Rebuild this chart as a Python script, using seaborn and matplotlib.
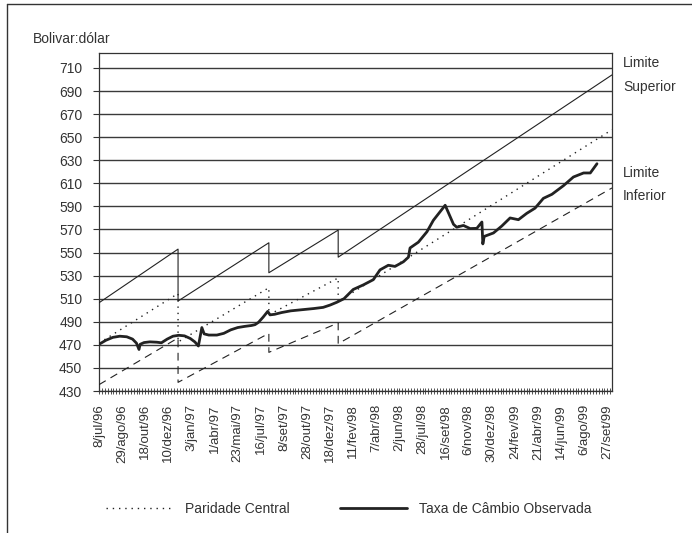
import numpy as np
import pandas as pd
import matplotlib
matplotlib.use("Agg")
import matplotlib.pyplot as plt
from matplotlib.lines import Line2D
from matplotlib.ticker import MultipleLocator
import seaborn as sns

# x positions are measured in "label slots" (the date labels are evenly spaced)
date_labels = ["8/jul/96", "29/ago/96", "18/out/96", "10/dez/96", "3/jan/97", "1/abr/97",
               "23/mai/97", "16/jul/97", "8/set/97", "28/out/97", "18/dez/97", "11/fev/98",
               "7/abr/98", "2/jun/98", "28/jul/98", "16/set/98", "6/nov/98", "30/dez/98",
               "24/fev/99", "21/abr/99", "14/jun/99", "6/ago/99", "27/set/99"]

# band vertices (sawtooth with resets)
band_x = [0, 3.42, 3.42, 7.35, 7.35, 10.35, 10.35, 22.2]
upper_y = [506.5, 553, 508, 558.5, 532.5, 569.5, 546, 704]
central_y = [471.5, 514.5, 472.5, 519.5, 496, 528, 507.5, 656.5]
lower_y = [435.5, 476, 437.5, 480, 463.5, 489, 471, 606]

# observed exchange rate
obs_x = [0, 0.3, 0.6, 0.9, 1.2, 1.45, 1.62, 1.73, 1.78, 1.95, 2.2, 2.5, 2.7, 2.95,
         3.2, 3.45, 3.7, 3.95, 4.15, 4.3, 4.45, 4.55, 4.75, 5.1, 5.4, 5.7, 6.0, 6.3,
         6.6, 6.75, 6.9, 7.1, 7.3, 7.4, 7.6, 7.9, 8.3, 8.8, 9.3, 9.7, 10.0, 10.3,
         10.6, 11.0, 11.44, 11.87, 12.16, 12.52, 12.81, 13.17, 13.39, 13.46, 13.82,
         14.19, 14.47, 14.98, 15.34, 15.48, 15.77, 16.06, 16.35, 16.57, 16.61, 16.67,
         17.07, 17.43, 17.79, 18.15, 18.51, 18.87, 19.23, 19.6, 20.1, 20.53, 20.97,
         21.26, 21.55]
obs_y = [470.5, 474, 476.5, 477.5, 477, 475, 471.5, 466, 470.5, 472, 472.6, 472.3,
         471.8, 475, 477.5, 478.3, 477.8, 475.5, 472.5, 469, 485, 479.5, 478.5, 478.5,
         480, 483, 485, 486, 486.8, 487.5, 489.5, 494, 499, 496, 496.5, 498, 499.5,
         500.5, 501.5, 502.5, 504.5, 507, 510, 518, 522, 526.5, 535, 539, 538, 542,
         546, 554, 559, 568, 578, 591, 574.5, 572, 573.5, 570.8, 571, 576.5, 557.5,
         564, 567, 573, 580, 578.5, 584, 588.5, 597, 600.5, 608, 615.5, 619, 619, 627]

y_ticks = list(range(430, 711, 20))

sns.set_style("ticks")
plt.rcParams["font.family"] = ["Liberation Sans", "DejaVu Sans"]

fig = plt.figure(figsize=(6.92, 5.33), dpi=100)
ax = fig.add_axes([0.1431, 0.2664, 0.7413, 0.6342])

ink = "#222222"
for y in y_ticks:
    ax.axhline(y, color="#3a3a3a", lw=1.0, zorder=1)

band = pd.DataFrame({"x": band_x, "upper": upper_y, "central": central_y, "lower": lower_y})
sns.lineplot(data=band, x="x", y="upper", ax=ax, estimator=None, sort=False,
             color=ink, lw=0.8, zorder=3)
sns.lineplot(data=band, x="x", y="central", ax=ax, estimator=None, sort=False,
             color=ink, lw=1.0, linestyle=(0, (1, 3.5)), zorder=3)
sns.lineplot(data=band, x="x", y="lower", ax=ax, estimator=None, sort=False,
             color=ink, lw=0.8, linestyle=(0, (7, 5)), zorder=3)

obs = pd.DataFrame({"x": obs_x, "rate": obs_y})
sns.lineplot(data=obs, x="x", y="rate", ax=ax, estimator=None, sort=False,
             color=ink, lw=2.0, zorder=4)

ax.set_xlim(0, 22.2)
ax.set_ylim(430, 723)
ax.set_xticks(range(len(date_labels)))
ax.set_xticklabels(date_labels, rotation=90, fontsize=9.5, color="#333333")
ax.xaxis.set_minor_locator(MultipleLocator(1 / 8))
ax.set_yticks(y_ticks)
ax.set_yticklabels([str(v) for v in y_ticks], fontsize=10, color="#333333")
ax.tick_params(axis="x", which="both", direction="inout", length=5, width=0.6,
               color="#333333", pad=7)
ax.tick_params(axis="y", direction="out", length=4, width=0.8, color="#333333", pad=8)
ax.set_xlabel("")
ax.set_ylabel("")
for side in ["left", "right", "top", "bottom"]:
    ax.spines[side].set_visible(True)
    ax.spines[side].set_color("#333333")
    ax.spines[side].set_linewidth(0.9)

fig.text(33 / 692, 1 - 39 / 533, "Bolivar:dólar", fontsize=10, color="#333333",
         ha="left", va="center")
fig.text(623 / 692, 1 - 63 / 533, "Limite", fontsize=10, color="#333333", va="center")
fig.text(623 / 692, 1 - 87 / 533, "Superior", fontsize=10, color="#333333", va="center")
fig.text(623 / 692, 1 - 173 / 533, "Limite", fontsize=10, color="#333333", va="center")
fig.text(623 / 692, 1 - 196 / 533, "Inferior", fontsize=10, color="#333333", va="center")

handles = [Line2D([], [], color=ink, lw=1.0, linestyle=(0, (1, 3.5))),
           Line2D([], [], color=ink, lw=2.0)]
fig.legend(handles, ["Paridade Central", "Taxa de Câmbio Observada"], ncol=2,
           loc="center left", bbox_to_anchor=(106 / 692, 1 - 509 / 533),
           frameon=False, fontsize=10, handlelength=4.8, handletextpad=0.9,
           columnspacing=3.6, borderpad=0, borderaxespad=0,
           labelcolor="#333333")

# outer frame (top and left edges of the scanned box)
fig.add_artist(Line2D([7 / 692, 7 / 692], [0, 1 - 4 / 533], transform=fig.transFigure,
                      color="#333333", lw=1.0))
fig.add_artist(Line2D([7 / 692, 1], [1 - 4 / 533, 1 - 4 / 533], transform=fig.transFigure,
                      color="#333333", lw=1.0))

fig.savefig("out.png", dpi=100)
